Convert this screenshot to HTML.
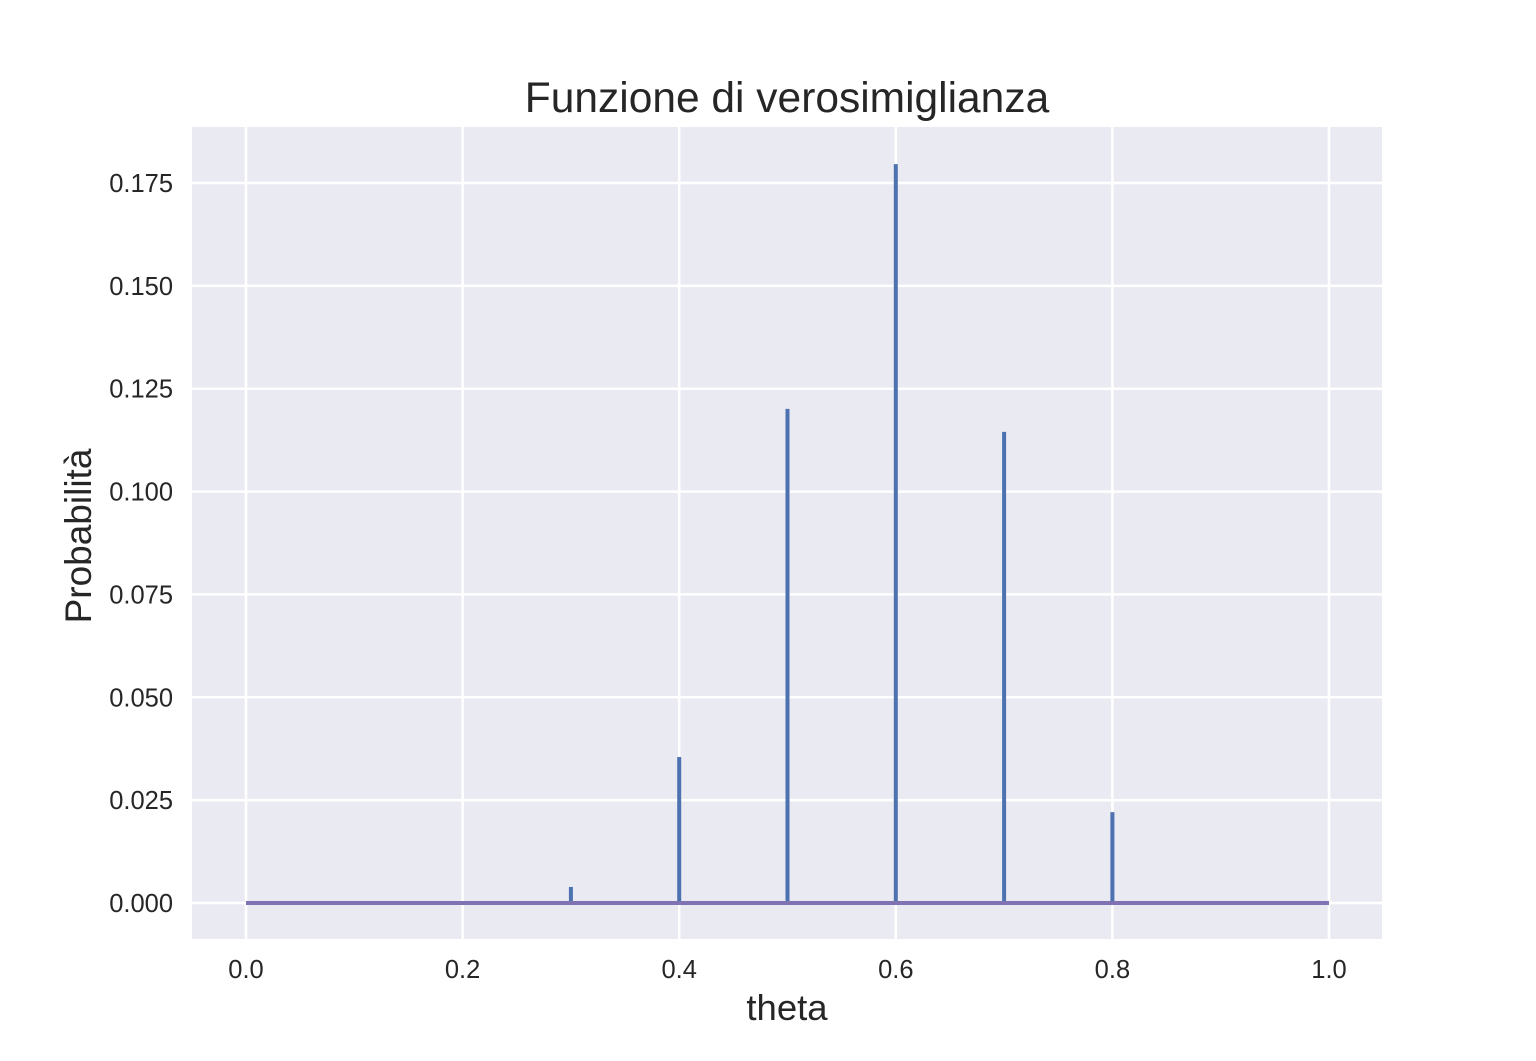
<!DOCTYPE html>
<html><head><meta charset="utf-8"><style>
body{margin:0;background:#fff;}
svg text{font-family:"Liberation Sans",sans-serif;fill:#262626;}
</style></head><body>
<svg id="chart" width="1536" height="1056">
<rect x="192" y="127" width="1190" height="812" fill="#eaeaf2"/>
<g id="grid"></g>
<g id="ticks"></g>
<g id="marks"></g>
<text x="787" y="112" font-size="42.5" text-anchor="middle">Funzione di verosimiglianza</text>
<text x="787" y="1020" font-size="36.5" text-anchor="middle">theta</text>
<text transform="translate(91,536) rotate(-90)" font-size="37" text-anchor="middle">Probabilità</text>
</svg>
<script>
const thetas=[0.3,0.4,0.5,0.6,0.7,0.8];
const probs=[0.0039,0.0355,0.1201,0.1796,0.1145,0.0221];
const xTicks=[0,0.2,0.4,0.6,0.8,1.0];
const xTickLabels=["0.0","0.2","0.4","0.6","0.8","1.0"];
const yTicks=[0,0.025,0.05,0.075,0.1,0.125,0.15,0.175];
const yTickLabels=["0.000","0.025","0.050","0.075","0.100","0.125","0.150","0.175"];
const NS="http://www.w3.org/2000/svg";
const X=v=>246+v*(1329-246);
const Y=v=>903-v*(903-183)/0.175;
function mk(t,a,p){const e=document.createElementNS(NS,t);for(const k in a)e.setAttribute(k,a[k]);document.getElementById(p).appendChild(e);return e;}
xTicks.forEach((v,i)=>{
 const l=mk('line',{x1:X(v),x2:X(v),y1:127,y2:939,stroke:'#fff','stroke-width':2.5},'grid');
 
 
 const t=mk('text',{x:X(v),y:978,'font-size':25.5,'text-anchor':'middle'},'ticks');t.textContent=xTickLabels[i];
 
 
});
yTicks.forEach((v,i)=>{
 const l=mk('line',{x1:192,x2:1382,y1:Y(v),y2:Y(v),stroke:'#fff','stroke-width':2.5},'grid');
 
 
 const t=mk('text',{x:173,y:Y(v)+9,'font-size':25.5,'text-anchor':'end'},'ticks');t.textContent=yTickLabels[i];
 
 
});
thetas.forEach((v,i)=>{
 const l=mk('line',{x1:X(v),x2:X(v),y1:Y(0),y2:Y(probs[i]),stroke:'#4c72b0','stroke-width':4},'marks');
 
 
});
const b=mk('line',{x1:X(0),x2:X(1),y1:Y(0),y2:Y(0),stroke:'#8172b3','stroke-width':4},'marks');


</script>
</body></html>
